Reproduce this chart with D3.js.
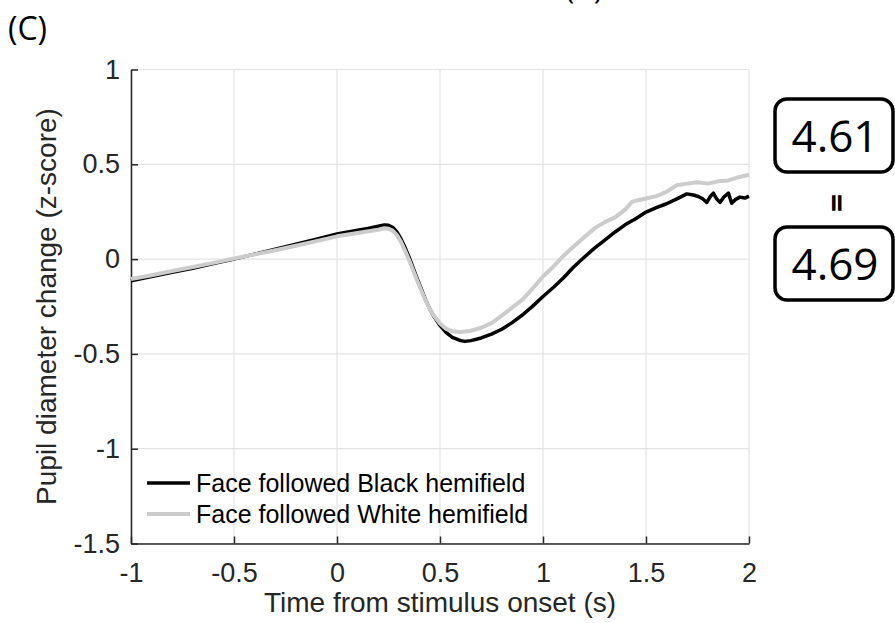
<!DOCTYPE html>
<html>
<head>
<meta charset="utf-8">
<script src="https://cdn.jsdelivr.net/npm/d3@7"></script>
<style>
  body { margin: 0; background: #fff; }
  svg { display: block; }
</style>
</head>
<body>
<div id="chart"></div>
<script>
// DATA
const xTicks = [-1, -0.5, 0, 0.5, 1, 1.5, 2]
const yTicks = [-1.5, -1, -0.5, 0, 0.5, 1]
const seriesNames = ["Face followed Black hemifield", "Face followed White hemifield"]

// black curve (time s, z-score)
const blackTime = [-1, -0.9, -0.8, -0.7, -0.6, -0.5, -0.4, -0.3, -0.2, -0.1, 0, 0.1, 0.15, 0.2, 0.23, 0.25, 0.27, 0.29, 0.31, 0.33, 0.35, 0.37, 0.39, 0.41, 0.43, 0.45, 0.47, 0.5, 0.53, 0.56, 0.6, 0.62, 0.65, 0.7, 0.75, 0.8, 0.85, 0.9, 0.95, 1, 1.05, 1.1, 1.15, 1.2, 1.25, 1.3, 1.35, 1.4, 1.45, 1.5, 1.55, 1.6, 1.65, 1.698, 1.73, 1.754, 1.775, 1.795, 1.812, 1.827, 1.843, 1.859, 1.88, 1.9, 1.916, 1.935, 1.956, 1.98, 2]
const blackValue = [-0.115, -0.092, -0.070, -0.048, -0.024, 0.000, 0.026, 0.052, 0.078, 0.105, 0.132, 0.152, 0.162, 0.173, 0.180, 0.178, 0.168, 0.145, 0.108, 0.062, 0.010, -0.048, -0.105, -0.160, -0.215, -0.262, -0.302, -0.350, -0.388, -0.413, -0.430, -0.434, -0.430, -0.416, -0.396, -0.370, -0.335, -0.295, -0.248, -0.197, -0.150, -0.098, -0.040, 0.010, 0.058, 0.100, 0.143, 0.182, 0.213, 0.248, 0.272, 0.292, 0.318, 0.344, 0.338, 0.330, 0.318, 0.299, 0.330, 0.348, 0.318, 0.299, 0.330, 0.348, 0.295, 0.315, 0.327, 0.322, 0.332]

// gray curve (time s, z-score)
const whiteTime = [-1, -0.9, -0.8, -0.7, -0.6, -0.5, -0.4, -0.3, -0.2, -0.1, 0, 0.1, 0.2, 0.23, 0.25, 0.27, 0.29, 0.31, 0.33, 0.35, 0.37, 0.39, 0.41, 0.43, 0.45, 0.47, 0.5, 0.53, 0.56, 0.6, 0.65, 0.7, 0.75, 0.8, 0.85, 0.9, 0.95, 1, 1.05, 1.1, 1.15, 1.2, 1.25, 1.3, 1.35, 1.4, 1.43, 1.45, 1.5, 1.55, 1.6, 1.65, 1.7, 1.75, 1.8, 1.85, 1.9, 1.95, 2]
const whiteValue = [-0.105, -0.085, -0.063, -0.042, -0.020, 0.003, 0.025, 0.047, 0.070, 0.095, 0.120, 0.138, 0.155, 0.163, 0.160, 0.150, 0.128, 0.092, 0.045, -0.005, -0.060, -0.115, -0.168, -0.218, -0.262, -0.298, -0.340, -0.368, -0.380, -0.385, -0.378, -0.362, -0.338, -0.298, -0.256, -0.214, -0.155, -0.092, -0.040, 0.018, 0.068, 0.115, 0.162, 0.195, 0.220, 0.262, 0.300, 0.308, 0.320, 0.332, 0.355, 0.390, 0.398, 0.405, 0.398, 0.410, 0.415, 0.432, 0.445]

const boxValues = ["4.61", "4.69"]

const width = 895, height = 623

const svg = d3.select("#chart").append("svg")
    .attr("width", width)
    .attr("height", height)

// SCALES
const xScale = d3.scaleLinear().domain([-1, 2]).range([131, 749])
const yScale = d3.scaleLinear().domain([-1.5, 1]).range([543.5, 69.5])

const fmt = d => String(d)

// GRID
svg.append("g").selectAll("line.vg")
    .data(xTicks)
    .join("line")
    .attr("x1", d => xScale(d)).attr("x2", d => xScale(d))
    .attr("y1", yScale(-1.5)).attr("y2", yScale(1))
    .attr("stroke", "#e3e3e3").attr("stroke-width", 1.2)
svg.append("g").selectAll("line.hg")
    .data(yTicks)
    .join("line")
    .attr("y1", d => yScale(d)).attr("y2", d => yScale(d))
    .attr("x1", xScale(-1)).attr("x2", xScale(2))
    .attr("stroke", "#e3e3e3").attr("stroke-width", 1.2)

// AXES
const xAxis = svg.append("g")
    .attr("transform", `translate(0, ${yScale(-1.5)})`)
    .call(d3.axisBottom(xScale).tickValues(xTicks).tickFormat(fmt)
        .tickSizeInner(-7).tickSizeOuter(0).tickPadding(19))
const yAxis = svg.append("g")
    .attr("transform", `translate(${xScale(-1)}, 0)`)
    .call(d3.axisLeft(yScale).tickValues(yTicks).tickFormat(fmt)
        .tickSizeInner(-7).tickSizeOuter(0).tickPadding(11))

svg.selectAll(".domain, .tick line").attr("stroke", "#262626").attr("stroke-width", 1.5)
svg.selectAll(".tick text")
    .attr("fill", "#262626")
    .style("font-family", "'Liberation Sans', Arial, sans-serif")
    .style("font-size", "27px")

// AXIS TITLES
svg.append("text")
    .attr("x", 440).attr("y", 612)
    .attr("text-anchor", "middle")
    .style("font-family", "'Liberation Sans', Arial, sans-serif")
    .style("font-size", "28px")
    .attr("fill", "#262626")
    .text("Time from stimulus onset (s)")
svg.append("text")
    .attr("transform", `translate(56, ${(yScale(1) + yScale(-1.5)) / 2}) rotate(-90)`)
    .attr("text-anchor", "middle")
    .style("font-family", "'Liberation Sans', Arial, sans-serif")
    .style("font-size", "28px")
    .attr("fill", "#262626")
    .text("Pupil diameter change (z-score)")

// LINES
const line = d3.line()
    .x(d => xScale(d[0]))
    .y(d => yScale(d[1]))

svg.append("path")
    .datum(blackTime.map((t, i) => [t, blackValue[i]]))
    .attr("d", line)
    .attr("fill", "none")
    .attr("stroke", "#000")
    .attr("stroke-width", 3.5)
    .attr("stroke-linejoin", "round")

svg.append("path")
    .datum(whiteTime.map((t, i) => [t, whiteValue[i]]))
    .attr("d", line)
    .attr("fill", "none")
    .attr("stroke", "#cccccc")
    .attr("stroke-width", 4)
    .attr("stroke-linejoin", "round")

// LEGEND
const legendColors = ["#000", "#cccccc"]
const legend = svg.append("g")
    .selectAll("g")
    .data(seriesNames)
    .join("g")
    .attr("transform", (d, i) => `translate(147, ${483 + i * 31})`)
legend.append("line")
    .attr("x1", 0).attr("x2", 43)
    .attr("stroke", (d, i) => legendColors[i])
    .attr("stroke-width", (d, i) => i == 0 ? 3.5 : 4)
legend.append("text")
    .attr("x", 49).attr("dy", "0.35em")
    .style("font-family", "'Liberation Sans', Arial, sans-serif")
    .style("font-size", "25px")
    .attr("fill", "#000")
    .text(d => d)

// PANEL LABELS
svg.append("text")
    .attr("x", 8).attr("y", 40)
    .style("font-family", "'Open Sans', sans-serif")
    .style("font-size", "32px")
    .text("(C)")
svg.append("text")
    .attr("x", 584).attr("y", -1)
    .attr("text-anchor", "middle")
    .style("font-family", "'Open Sans', sans-serif")
    .style("font-size", "30px")
    .text("(B)")

// VALUE BOXES
const boxY = [99, 227]
const boxes = svg.append("g")
    .selectAll("g")
    .data(boxValues)
    .join("g")
    .attr("transform", (d, i) => `translate(775, ${boxY[i]})`)
boxes.append("rect")
    .attr("width", 118).attr("height", 73)
    .attr("rx", 12)
    .attr("fill", "#fff")
    .attr("stroke", "#000")
    .attr("stroke-width", 3.5)
boxes.append("text")
    .attr("x", 60).attr("y", 37).attr("dy", "0.36em")
    .attr("text-anchor", "middle")
    .style("font-family", "'Open Sans', sans-serif")
    .style("font-size", "44px")
    .text(d => d)

svg.append("text")
    .attr("transform", "translate(835, 203) rotate(90)")
    .attr("text-anchor", "middle")
    .attr("dy", "0.3em")
    .style("font-family", "'Open Sans', sans-serif")
    .style("font-size", "32px")
    .style("font-weight", "bold")
    .text("=")
</script>
</body>
</html>
